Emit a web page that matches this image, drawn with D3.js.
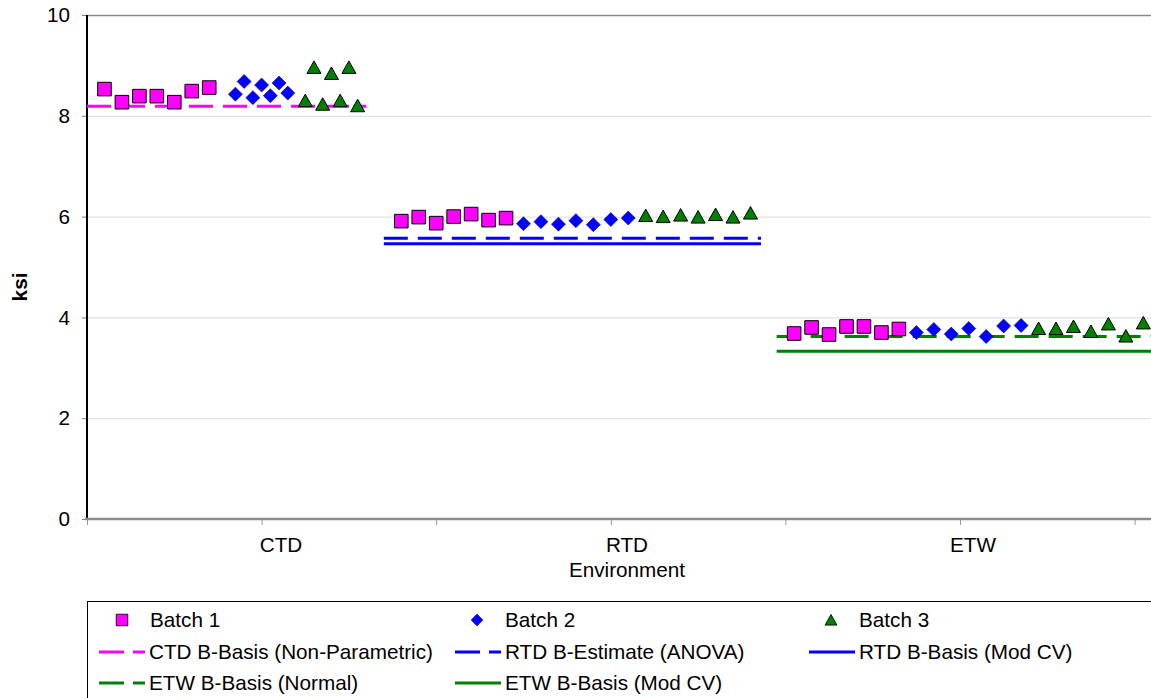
<!DOCTYPE html>
<html><head><meta charset="utf-8">
<script src="https://cdn.jsdelivr.net/npm/d3@7"></script>
<style>body{margin:0;background:#fff} svg{display:block} text{font-family:"Liberation Sans",Arial,sans-serif}</style>
</head><body><svg id="c" width="1151" height="698"></svg>
<script>
// ---- data ----
const categories = ["CTD", "RTD", "ETW"];
const xTickVals = [0, 1, 2, 3, 4, 5, 6];
const yTickVals = [0, 2, 4, 6, 8, 10];

const ctdPos1 = [0.10, 0.20, 0.30, 0.40, 0.50, 0.60, 0.70];
const ctdPos2 = [0.85, 0.90, 0.95, 1.00, 1.05, 1.10, 1.15];
const ctdPos3 = [1.25, 1.30, 1.35, 1.40, 1.45, 1.50, 1.55];
const rtdPos1 = [1.80, 1.90, 2.00, 2.10, 2.20, 2.30, 2.40];
const rtdPos2 = [2.50, 2.60, 2.70, 2.80, 2.90, 3.00, 3.10];
const rtdPos3 = [3.20, 3.30, 3.40, 3.50, 3.60, 3.70, 3.80];
const etwPos1 = [4.05, 4.15, 4.25, 4.35, 4.45, 4.55, 4.65];
const etwPos2 = [4.75, 4.85, 4.95, 5.05, 5.15, 5.25, 5.35];
const etwPos3 = [5.45, 5.55, 5.65, 5.75, 5.85, 5.95, 6.05];

const ctdBatch1 = [8.53, 8.27, 8.39, 8.39, 8.27, 8.49, 8.56];
const ctdBatch2 = [8.43, 8.68, 8.36, 8.61, 8.40, 8.65, 8.45];
const ctdBatch3 = [8.30, 8.96, 8.23, 8.84, 8.30, 8.96, 8.20];
const rtdBatch1 = [5.91, 5.99, 5.87, 6.00, 6.05, 5.93, 5.97];
const rtdBatch2 = [5.86, 5.90, 5.85, 5.92, 5.84, 5.94, 5.97];
const rtdBatch3 = [6.02, 6.00, 6.03, 5.99, 6.04, 5.99, 6.07];
const etwBatch1 = [3.68, 3.80, 3.66, 3.82, 3.82, 3.70, 3.77];
const etwBatch2 = [3.70, 3.76, 3.67, 3.78, 3.62, 3.83, 3.84];
const etwBatch3 = [3.78, 3.78, 3.82, 3.72, 3.87, 3.63, 3.89];

const basisNames = ["CTD B-Basis (Non-Parametric)", "RTD B-Estimate (ANOVA)", "RTD B-Basis (Mod CV)", "ETW B-Basis (Normal)", "ETW B-Basis (Mod CV)"];
const basisValues = [8.19, 5.57, 5.46, 3.62, 3.33];
const basisFrom = [0, 1.7, 1.7, 3.95, 3.95];
const basisTo = [1.6, 3.86, 3.86, 6.1, 6.1];
const basisColors = ["#ff00ff", "#0000ff", "#0000ff", "#008000", "#008000"];
const basisDashed = [true, true, false, true, false];

const batchNames = ["Batch 1", "Batch 2", "Batch 3"];

// ---- chart ----
const svg = d3.select("#c");
const FS = 20.7;
const x = d3.scaleLinear().domain([0, 6.1]).range([87, 87 + 6.1 * 174.6]);
const y = d3.scaleLinear().domain([0, 10]).range([519, 15]);
const catScale = d3.scaleBand().domain(categories).range([108, 1146]);

const shapes = {
  square: "M-6.8,-6.8h13.6v13.6h-13.6z",
  diamond: "M0,-7L7,0L0,7L-7,0Z",
  triangle: "M0,-6.5L7,6L-7,6Z"
};
const batchStyle = [
  {shape: "square", fill: "#ff00ff", stroke: "#000", sw: 1},
  {shape: "diamond", fill: "#0000ff", stroke: "#000080", sw: 0.6},
  {shape: "triangle", fill: "#008000", stroke: "#000", sw: 1}
];
const series = [
  {b: 0, xs: ctdPos1, ys: ctdBatch1}, {b: 1, xs: ctdPos2, ys: ctdBatch2}, {b: 2, xs: ctdPos3, ys: ctdBatch3},
  {b: 0, xs: rtdPos1, ys: rtdBatch1}, {b: 1, xs: rtdPos2, ys: rtdBatch2}, {b: 2, xs: rtdPos3, ys: rtdBatch3},
  {b: 0, xs: etwPos1, ys: etwBatch1}, {b: 1, xs: etwPos2, ys: etwBatch2}, {b: 2, xs: etwPos3, ys: etwBatch3}
];

// gridlines
svg.append("g").selectAll("line").data(yTickVals.filter(v => v > 0)).join("line")
  .attr("x1", x(0)).attr("x2", 1151)
  .attr("y1", d => y(d) + 0.5).attr("y2", d => y(d) + 0.5)
  .attr("stroke", d => d === 10 ? "#8c8c8c" : "#d9d9d9")
  .attr("stroke-width", d => d === 10 ? 1.5 : 1);

// y axis
const ya = svg.append("g").attr("transform", `translate(${x(0)},0)`)
  .call(d3.axisLeft(y).tickValues(yTickVals).tickSize(5).tickPadding(12).tickFormat(d3.format("d")));
ya.select(".domain").remove();
ya.selectAll(".tick line").attr("stroke", "#808080");
ya.selectAll(".tick text").attr("font-size", FS).attr("fill", "#000").attr("font-family", "Liberation Sans, Arial, sans-serif");
svg.append("line").attr("x1", x(0)).attr("x2", x(0)).attr("y1", y(10)).attr("y2", y(0))
  .attr("stroke", "#000").attr("stroke-width", 2);

// x axis
const xa = svg.append("g").attr("transform", `translate(0,${y(0)})`)
  .call(d3.axisBottom(x).tickValues(xTickVals).tickSize(6).tickFormat(""));
xa.select(".domain").remove();
xa.selectAll(".tick line").attr("stroke", "#999");
svg.append("line").attr("x1", x(0) - 2).attr("x2", 1151).attr("y1", y(0)).attr("y2", y(0))
  .attr("stroke", "#8c8c8c").attr("stroke-width", 2.5);

svg.append("g").selectAll("text").data(categories).join("text")
  .attr("x", d => catScale(d) + catScale.bandwidth() / 2).attr("y", 552)
  .attr("text-anchor", "middle").attr("font-size", FS).text(d => d);
svg.append("text").attr("x", catScale("RTD") + catScale.bandwidth() / 2).attr("y", 577)
  .attr("text-anchor", "middle").attr("font-size", FS).text("Environment");
svg.append("text").attr("transform", `translate(27,287) rotate(-90)`)
  .attr("text-anchor", "middle").attr("font-size", FS).attr("font-weight", "bold").text("ksi");

// basis lines
svg.append("g").selectAll("line").data(basisValues).join("line")
  .attr("x1", (d, i) => x(basisFrom[i])).attr("x2", (d, i) => x(basisTo[i]))
  .attr("y1", d => y(d)).attr("y2", d => y(d))
  .attr("stroke", (d, i) => basisColors[i]).attr("stroke-width", 3)
  .attr("stroke-dasharray", (d, i) => basisDashed[i] ? "24,10" : null);

// markers
series.forEach(s => {
  const st = batchStyle[s.b];
  svg.append("g").selectAll("path").data(s.ys).join("path")
    .attr("d", shapes[st.shape])
    .attr("transform", (d, i) => `translate(${x(s.xs[i])},${y(d)})`)
    .attr("fill", st.fill).attr("stroke", st.stroke).attr("stroke-width", st.sw);
});

// legend
const lg = svg.append("g");
lg.append("rect").attr("x", 87.5).attr("y", 601.5).attr("width", 1200).attr("height", 200)
  .attr("fill", "none").attr("stroke", "#000").attr("stroke-width", 1);
const colX = [122, 477, 831];
const rowY = [620, 652, 683];
batchNames.forEach((n, i) => {
  const st = batchStyle[i];
  lg.append("path").attr("d", shapes[st.shape])
    .attr("transform", `translate(${colX[i]},${rowY[0]}) scale(0.85)`)
    .attr("fill", st.fill).attr("stroke", st.stroke).attr("stroke-width", st.sw);
  lg.append("text").attr("x", colX[i] + 28).attr("y", rowY[0]).attr("dy", "0.35em")
    .attr("font-size", FS).text(n);
});
const lineCol = [99, 455, 809];
basisNames.forEach((n, i) => {
  const r = 1 + Math.floor(i / 3), c = i % 3;
  lg.append("line").attr("x1", lineCol[c]).attr("x2", lineCol[c] + 46)
    .attr("y1", rowY[r]).attr("y2", rowY[r])
    .attr("stroke", basisColors[i]).attr("stroke-width", 3)
    .attr("stroke-dasharray", basisDashed[i] ? "25,9" : null);
  lg.append("text").attr("x", lineCol[c] + 50).attr("y", rowY[r]).attr("dy", "0.35em")
    .attr("font-size", FS).text(n);
});
</script></body></html>
